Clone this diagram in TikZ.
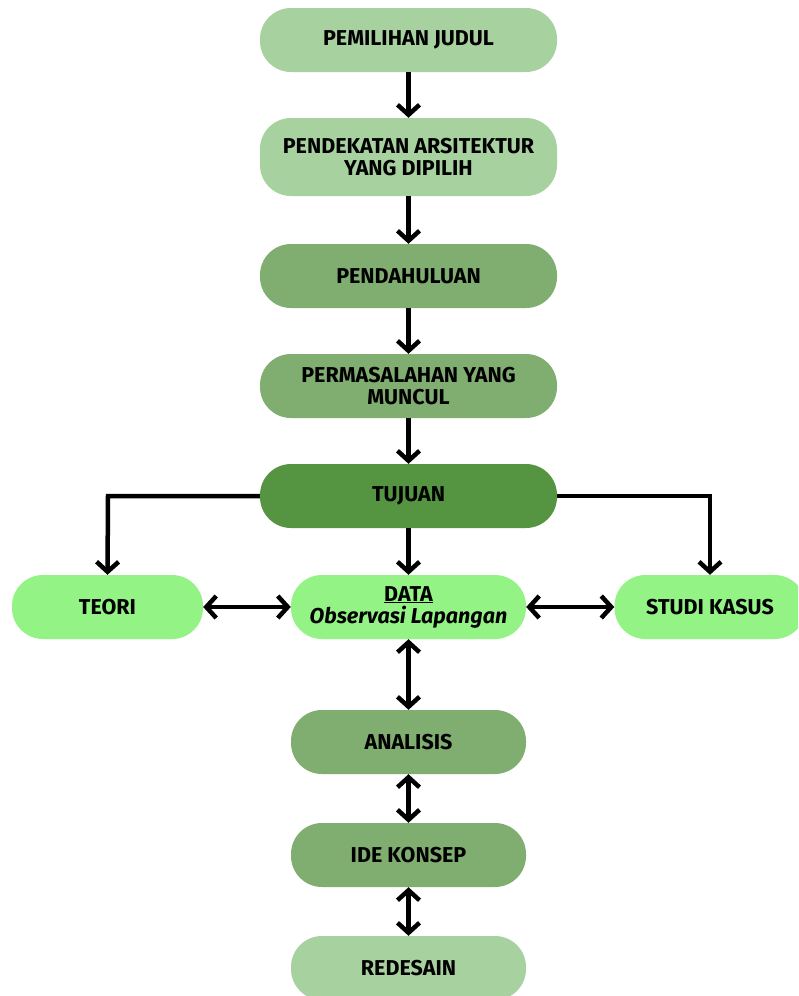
\documentclass[tikz,border=0pt]{standalone}
\usepackage{fontspec}
\setmainfont{Fira Sans}
\usetikzlibrary{arrows.meta}
\definecolor{gLight}{HTML}{A8D1A0}
\definecolor{gMid}{HTML}{80AD70}
\definecolor{gDark}{HTML}{559441}
\definecolor{gBright}{HTML}{93F384}
\tikzset{
  flowbox/.style={rectangle, rounded corners=31pt, draw=none, minimum height=64pt,
    align=center, font=\fontsize{21.5}{22}\selectfont\bfseries, inner sep=0pt, text=black},
  widebox/.style={flowbox, minimum width=297pt},
  midbox/.style={flowbox, minimum width=235pt},
  sidebox/.style={flowbox, minimum width=191pt},
  tip/.style={Straight Barb[length=10pt,width=22pt,line width=4.5pt]},
  conn/.style={line width=4.5pt, draw=black, -{Straight Barb[length=10pt,width=22pt,line width=4.5pt]}},
  bconn/.style={line width=4.5pt, draw=black, {Straight Barb[length=10pt,width=22pt,line width=4.5pt]}-{Straight Barb[length=10pt,width=22pt,line width=4.5pt]}}
}
\begin{document}
\begin{tikzpicture}[x=1pt,y=-1pt]
\useasboundingbox (0,0) rectangle (798,996);
\clip (0,0) rectangle (798,996);
\fill[white] (0,0) rectangle (798,996);
\node[widebox, fill=gLight] (judul) at (408.5,40) {PEMILIHAN JUDUL};
\node[widebox, fill=gLight, minimum height=78pt] (pendekatan) at (408.5,157) {PENDEKATAN ARSITEKTUR\\YANG DIPILIH};
\node[widebox, fill=gMid] (pendahuluan) at (408.5,276) {PENDAHULUAN};
\node[widebox, fill=gMid] (masalah) at (408.5,386) {PERMASALAHAN YANG\\MUNCUL};
\node[widebox, fill=gDark] (tujuan) at (408.5,496) {TUJUAN};
\node[sidebox, fill=gBright] (teori) at (107.5,607) {TEORI};
\node[midbox, fill=gBright] (data) at (408.5,607) {\underline{DATA}\\\itshape Observasi Lapangan};
\node[sidebox, fill=gBright] (studi) at (710,607) {STUDI KASUS};
\node[midbox, fill=gMid] (analisis) at (408.5,742) {ANALISIS};
\node[midbox, fill=gMid] (ide) at (408.5,855) {IDE KONSEP};
\node[midbox, fill=gLight] (redesain) at (408.5,968) {REDESAIN};
\coordinate (tl) at (108,496);
\coordinate (tr) at (710,496);
\draw[conn] (judul) -- (pendekatan);
\draw[conn] (pendekatan) -- (pendahuluan);
\draw[conn] (pendahuluan) -- (masalah);
\draw[conn] (masalah) -- (tujuan);
\draw[conn] (tujuan.south) -- (data.north);
\draw[conn] (tujuan.west) -- (tl) -- (teori.north);
\draw[conn] (tujuan.east) -- (tr) -- (studi.north);
\draw[bconn] (teori) -- (data);
\draw[bconn] (data) -- (studi);
\draw[bconn] (data) -- (analisis);
\draw[bconn] (analisis) -- (ide);
\draw[bconn] (ide) -- (redesain);
\end{tikzpicture}
\end{document}
